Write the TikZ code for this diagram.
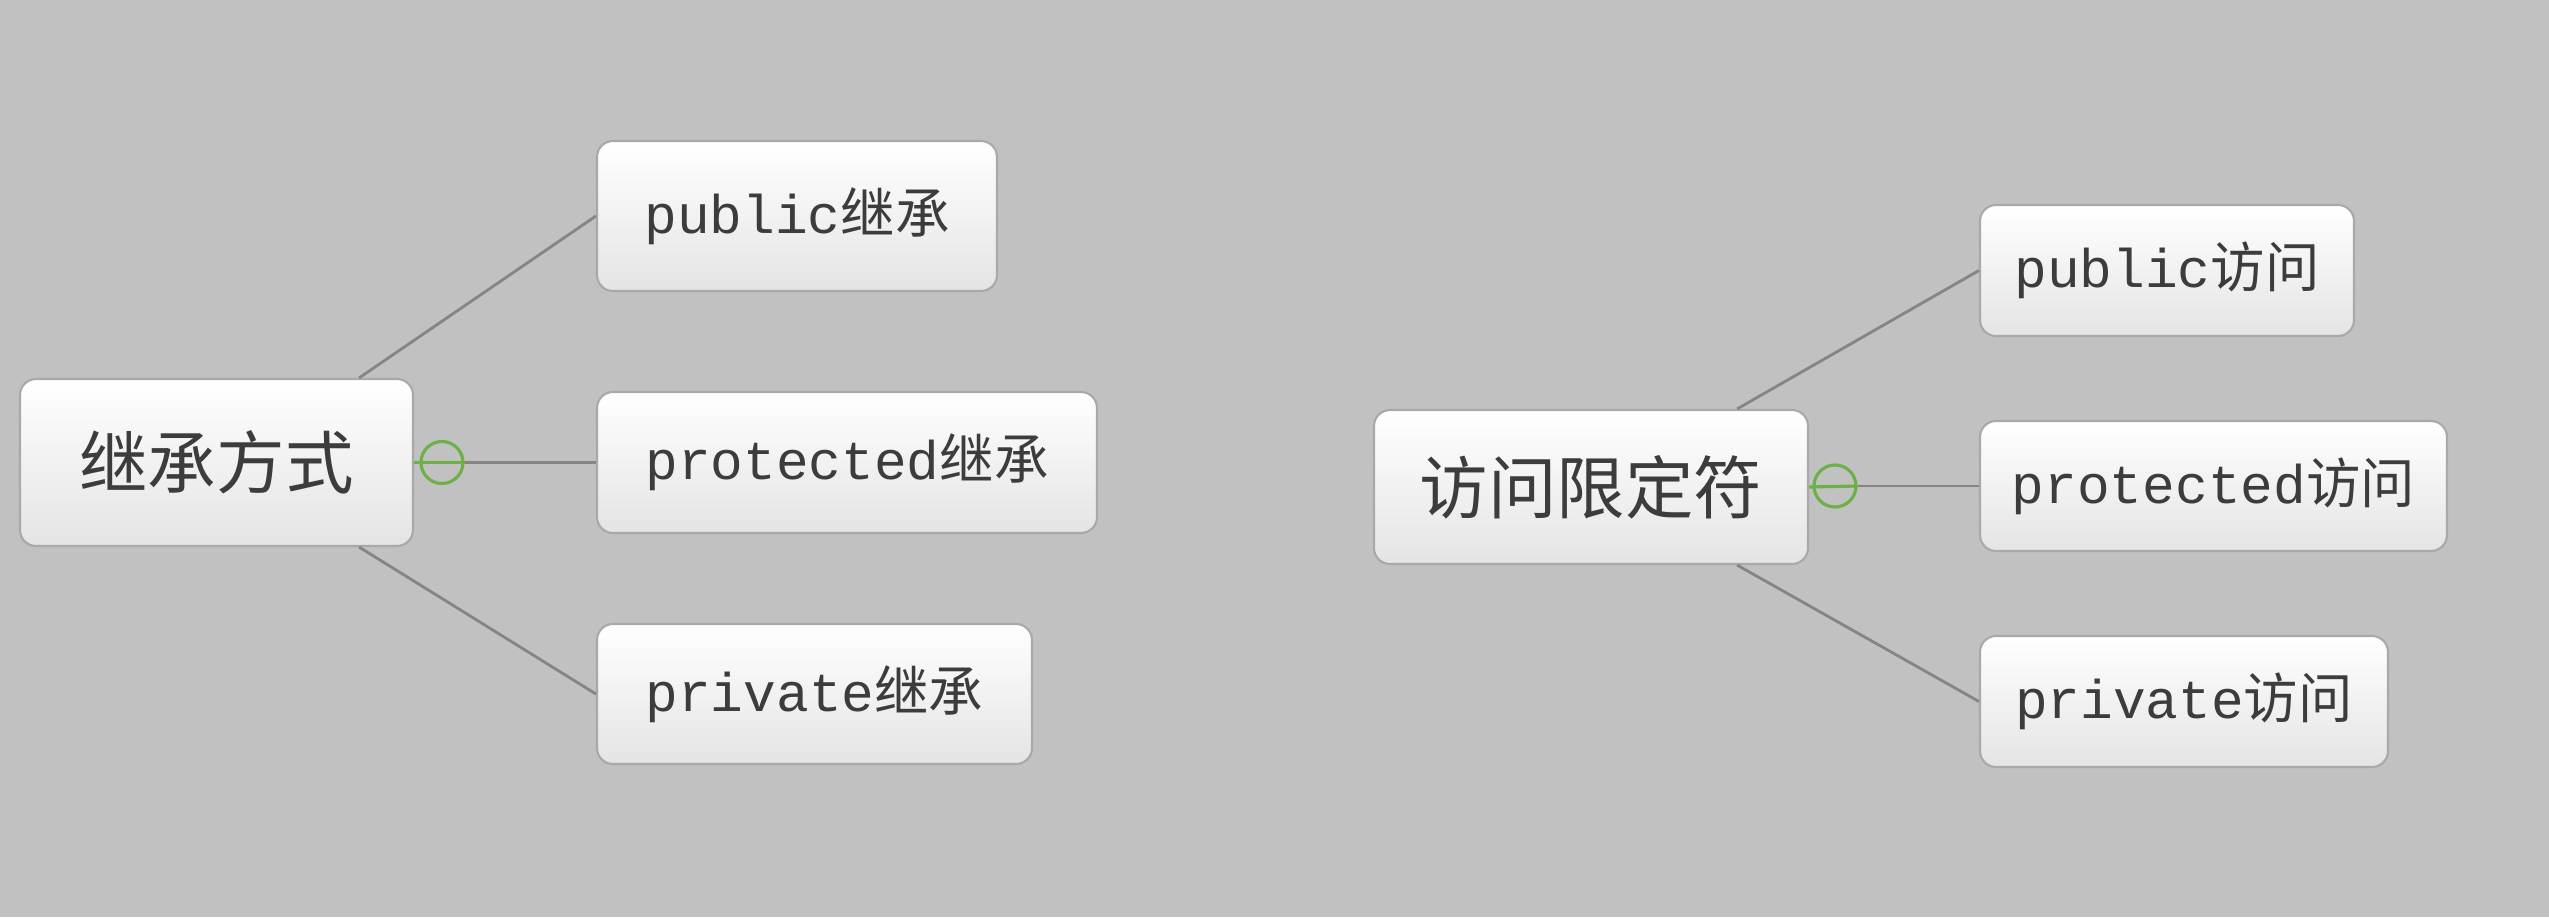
\documentclass[tikz,border=0pt]{standalone}
\usepackage{fontspec}
\setmonofont{Liberation Mono}
\newfontfamily\cjk{Noto Sans CJK SC}
\newcommand{\zh}[1]{{\cjk #1}}
\definecolor{bg}{HTML}{C1C1C1}
\definecolor{boxline}{HTML}{A9A9A9}
\definecolor{boxbot}{HTML}{E4E4E4}
\definecolor{txt}{HTML}{3C3C3C}
\definecolor{linec}{HTML}{858585}
\definecolor{foldc}{HTML}{6DB048}
\tikzset{
  rootfont/.style={font=\fontsize{19.5}{23}\selectfont},
  leaffont/.style={font=\fontsize{15.5}{19}\ttfamily\selectfont},
  fold/.style={circle, draw=foldc, line width=0.9pt, minimum size=0.42cm, inner sep=0pt}
}
\begin{document}
\begin{tikzpicture}

        \fill[bg] (0,0) rectangle (25.49,9.17);

        \begin{scope}[every node/.style={draw=boxline, line width=0.6pt, rounded corners=0.16cm,
            top color=white, bottom color=boxbot, text=txt, inner sep=0pt}]
          \node[rootfont, minimum width=3.93cm, minimum height=1.67cm] (jc)  at (2.165,4.545) {\zh{继承方式}};
          \node[leaffont, minimum width=4.00cm, minimum height=1.50cm] (jc1) at (7.970,7.010) {public\zh{继承}};
          \node[leaffont, minimum width=5.00cm, minimum height=1.41cm] (jc2) at (8.470,4.545) {protected\zh{继承}};
          \node[leaffont, minimum width=4.35cm, minimum height=1.40cm] (jc3) at (8.145,2.230) {private\zh{继承}};

          \node[rootfont, minimum width=4.34cm, minimum height=1.54cm] (fw)  at (15.910,4.300) {\zh{访问限定符}};
          \node[leaffont, minimum width=3.74cm, minimum height=1.31cm] (fw1) at (21.670,6.465) {public\zh{访问}};
          \node[leaffont, minimum width=4.67cm, minimum height=1.30cm] (fw2) at (22.135,4.310) {protected\zh{访问}};
          \node[leaffont, minimum width=4.08cm, minimum height=1.31cm] (fw3) at (21.840,2.155) {private\zh{访问}};
        \end{scope}

        \node[fold] (jcm) at (4.42,4.545) {};
        \node[fold] (fwm) at (18.35,4.310) {};
        \draw[foldc, line width=0.9pt] (jc.east) -- (jcm.east);
        \draw[foldc, line width=0.9pt] (fw.east) -- (fwm.east);

        \begin{scope}[every edge/.style={draw=linec, line width=0.8pt}]
          \path ([xshift=-0.55cm]jc.north east) edge (jc1.west);
          \path (jcm.east) edge (jc2.west);
          \path ([xshift=-0.55cm]jc.south east) edge (jc3.west);

          \path ([xshift=-0.72cm]fw.north east) edge (fw1.west);
          \path (fwm.east) edge (fw2.west);
          \path ([xshift=-0.72cm]fw.south east) edge (fw3.west);
        \end{scope}

      \end{tikzpicture}
\end{document}
